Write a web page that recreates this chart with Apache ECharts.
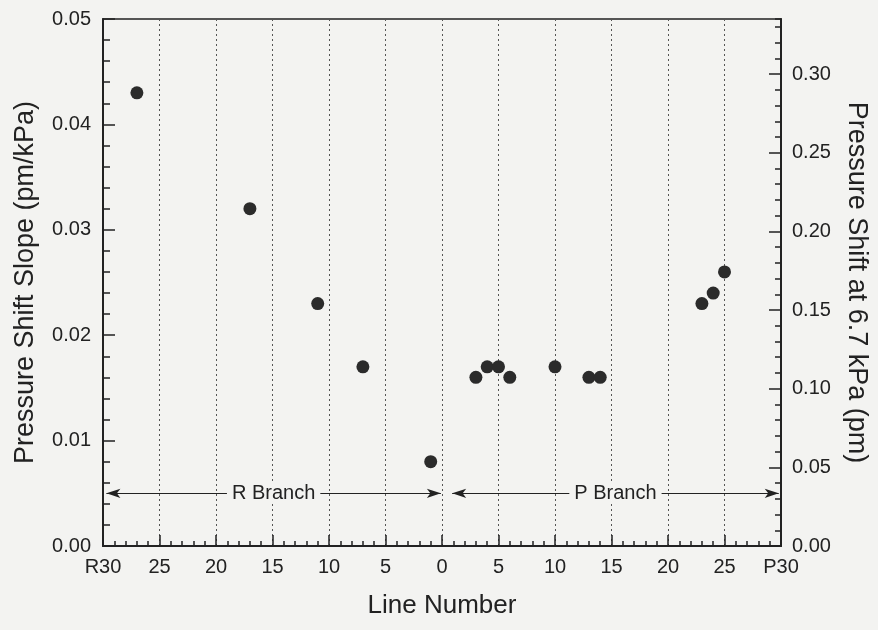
<!DOCTYPE html>
<html>
<head>
<meta charset="utf-8">
<script src="https://cdn.jsdelivr.net/npm/echarts@6/dist/echarts.min.js"></script>
<style>
  html, body { margin: 0; padding: 0; background: #f3f3f1; }
  #chart { width: 878px; height: 630px; }
</style>
</head>
<body>
<div id="chart"></div>
<script>
// R branch lines (plotted at -J), P branch lines (plotted at +J)
const rLines = [27, 17, 11, 7, 1];
const rSlope = [0.043, 0.032, 0.023, 0.017, 0.008];
const pLines = [3, 4, 5, 6, 10, 13, 14, 23, 24, 25];
const pSlope = [0.016, 0.017, 0.017, 0.016, 0.017, 0.016, 0.016, 0.023, 0.024, 0.026];

const slopeMax = 0.05;
const pressure = 6.7; // kPa, right axis = slope * pressure
const branchY = 0.005;

const FONT = "'Liberation Sans', Arial, sans-serif";
const INK = '#222';

const points = rLines.map((j, i) => [-j, rSlope[i]])
  .concat(pLines.map((j, i) => [j, pSlope[i]]));

const chart = echarts.init(document.getElementById('chart'));

const branchLabel = (text) => ({
  show: true,
  position: 'insideMiddle',
  formatter: text,
  color: INK,
  fontFamily: FONT,
  fontSize: 20,
  backgroundColor: '#f3f3f1',
  padding: [0, 5],
  distance: 0
});

chart.setOption({
  backgroundColor: '#f3f3f1',
  animation: false,
  grid: {
    left: 103, right: 95, top: 19, bottom: 84,
    show: true, borderColor: INK, borderWidth: 1.5, backgroundColor: 'transparent'
  },
  xAxis: {
    type: 'value',
    min: -30, max: 30, interval: 5,
    name: 'Line Number',
    nameLocation: 'middle',
    nameGap: 47,
    nameTextStyle: { color: INK, fontFamily: FONT, fontSize: 26 },
    axisLine: { onZero: false, lineStyle: { color: INK, width: 2 } },
    axisTick: { inside: true, length: 11, lineStyle: { color: INK, width: 1.5 } },
    minorTick: { show: true, splitNumber: 5, length: 5, lineStyle: { color: INK, width: 1.5 } },
    axisLabel: {
      color: INK, fontFamily: FONT, fontSize: 20, margin: 11,
      formatter: v => v === -30 ? 'R30' : v === 30 ? 'P30' : String(Math.abs(v))
    },
    splitLine: { show: true, lineStyle: { color: '#555', width: 1, type: [2, 3] } }
  },
  yAxis: [
    {
      type: 'value',
      min: 0, max: slopeMax, interval: 0.01,
      name: 'Pressure Shift Slope (pm/kPa)',
      nameLocation: 'middle',
      nameGap: 64,
      nameTextStyle: { color: INK, fontFamily: FONT, fontSize: 27 },
      axisLine: { show: true, onZero: false, lineStyle: { color: INK, width: 2 } },
      axisTick: { inside: true, length: 12, lineStyle: { color: INK, width: 1.5 } },
      minorTick: { show: true, splitNumber: 5, length: 7, lineStyle: { color: INK, width: 1.5 } },
      axisLabel: { color: INK, fontFamily: FONT, fontSize: 20, margin: 12, formatter: v => v.toFixed(2) },
      splitLine: { show: false }
    },
    {
      type: 'value',
      position: 'right',
      min: 0, max: slopeMax * pressure, interval: 0.05,
      name: 'Pressure Shift at 6.7 kPa (pm)',
      nameLocation: 'middle',
      nameRotate: -90,
      nameGap: 62,
      nameTextStyle: { color: INK, fontFamily: FONT, fontSize: 27 },
      axisLine: { show: true, onZero: false, lineStyle: { color: INK, width: 2 } },
      axisTick: { inside: true, length: 12, lineStyle: { color: INK, width: 1.5 } },
      axisLabel: { color: INK, fontFamily: FONT, fontSize: 20, margin: 11, showMaxLabel: false, formatter: v => v.toFixed(2) },
      splitLine: { show: false }
    },
    {
      // minor ticks of the right axis, every 0.01 pm
      type: 'value',
      position: 'right',
      min: 0, max: slopeMax * pressure, interval: 0.01,
      axisLine: { show: false, onZero: false },
      axisTick: { inside: true, length: 6, lineStyle: { color: INK, width: 1.5 } },
      axisLabel: { show: false },
      splitLine: { show: false }
    }
  ],
  series: [
    {
      type: 'scatter',
      data: points,
      symbolSize: 13,
      itemStyle: { color: '#2b2b2b', opacity: 1 },
      markLine: {
        silent: true,
        symbol: ['arrow', 'arrow'],
        symbolSize: [7, 14],
        lineStyle: { color: INK, width: 1, type: 'solid' },
        data: [
          [{ coord: [-29.7, branchY], label: branchLabel('R Branch') }, { coord: [-0.1, branchY] }],
          [{ coord: [0.9, branchY], label: branchLabel('P Branch') }, { coord: [29.8, branchY] }]
        ]
      }
    }
  ]
});
</script>
</body>
</html>
